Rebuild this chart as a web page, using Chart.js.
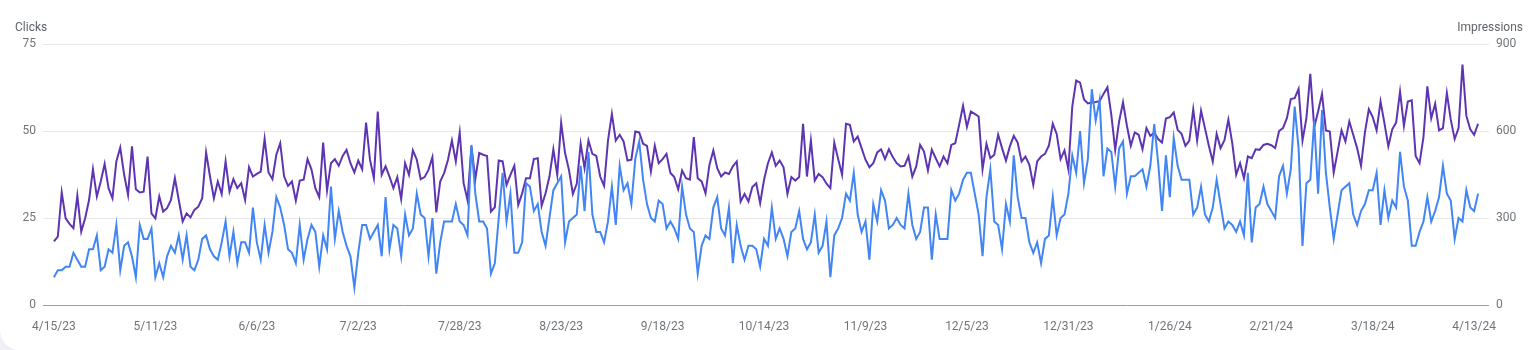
<!DOCTYPE html>
<html>
<head>
<meta charset="utf-8">
<title>Performance</title>
<script src="https://cdn.jsdelivr.net/npm/chart.js@4.4.0/dist/chart.umd.min.js"></script>
<style>
  html, body { margin: 0; padding: 0; background: #eef0f6; }
  .card { width: 1534px; height: 350px; background: #fff; border-bottom-left-radius: 20px; overflow: hidden; }
  canvas { display: block; }
</style>
</head>
<body>
<div class="card"><canvas id="perfChart" width="1534" height="350"></canvas></div>
<script>
// daily values, 4/15/23 .. 4/14/24
var clicks = [
  8,10,10,11,11,15,13,11,11,16,16,20,10,11,16,15,23,10,17,18,
  14,8,23,19,19,22,8,12,8,14,17,15,20,13,20,11,10,13,19,20,
  16,14,13,18,24,14,21,12,18,18,15,28,18,13,23,15,21,31,28,23,
  16,15,12,23,13,19,23,21,11,20,16,34,19,27,21,17,14,5,15,23,
  23,19,21,23,14,31,16,23,22,14,26,20,22,32,26,25,14,25,9,18,
  24,24,24,29,24,23,20,46,32,24,24,22,9,12,25,38,24,32,15,15,
  18,35,34,27,29,21,17,25,33,35,37,18,24,25,26,40,27,44,26,21,
  21,18,24,34,23,40,33,35,29,42,47,36,29,25,24,30,29,22,24,22,
  19,34,26,22,21,9,17,20,19,28,31,22,20,28,12,23,17,13,17,17,
  16,11,19,17,28,19,22,19,14,21,22,27,19,16,18,26,15,17,24,8,
  20,22,25,32,30,38,26,21,24,13,29,24,33,30,22,23,25,23,22,32,
  23,19,21,28,28,13,26,19,19,19,33,30,32,36,38,38,32,26,14,31,
  39,24,23,16,29,24,43,31,25,25,18,15,18,12,19,20,31,20,25,26,
  32,43,38,50,35,42,62,53,59,37,45,44,34,45,47,32,37,37,38,39,
  34,40,52,41,27,43,31,48,40,36,36,36,26,28,34,26,24,28,36,29,
  22,24,23,21,24,20,38,18,28,29,34,29,27,25,37,40,32,39,57,45,
  17,35,36,53,32,56,38,28,19,26,33,34,35,26,23,27,29,33,33,38,
  23,33,25,30,28,44,34,30,17,17,21,24,31,24,27,31,40,32,30,19,
  25,24,33,28,27,32
];

var impressions = [
  219,236,388,299,280,265,377,253,299,362,468,374,426,487,403,368,495,543,449,380,
  547,399,388,391,512,316,299,374,322,334,362,437,362,288,316,302,328,339,368,526,
  443,368,426,383,495,391,434,403,420,362,475,443,452,460,573,457,434,518,558,443,
  411,426,360,429,432,503,468,403,372,560,395,489,503,480,514,535,489,457,498,468,
  629,501,437,667,449,478,443,403,441,365,489,449,533,501,434,441,466,510,319,426,
  455,501,567,495,595,420,362,547,434,524,518,514,322,337,498,495,414,449,480,345,
  385,437,437,503,506,342,385,443,537,449,629,524,466,383,418,556,472,567,521,514,
  443,411,567,659,567,587,564,498,501,598,595,556,549,460,549,489,503,521,455,441,
  399,464,437,432,579,437,426,385,483,533,472,443,457,452,478,495,357,383,357,407,
  420,351,432,489,526,480,498,475,383,441,429,441,625,443,567,429,452,441,418,403,
  560,503,449,625,621,564,581,541,501,475,489,526,537,503,537,510,489,478,480,512,
  443,478,552,529,464,535,506,478,512,489,552,558,621,687,614,667,659,650,468,556,
  506,518,587,541,498,547,583,560,495,512,483,414,495,512,521,549,625,590,503,533,
  468,685,774,767,709,695,698,700,703,728,751,656,535,633,699,618,549,595,587,537,
  610,583,595,572,560,643,648,664,604,590,549,567,675,567,670,610,549,495,590,541,
  568,639,558,449,489,437,512,506,537,535,552,556,551,541,600,610,644,710,713,745,
  567,644,797,613,667,728,602,598,457,529,602,564,633,587,541,480,595,675,648,602,
  702,627,547,606,629,736,618,702,706,514,489,579,754,644,694,602,610,731,639,572,
  610,829,652,606,587,625
];

var tickDays = [0, 26, 52, 78, 104, 130, 156, 182, 208, 234, 260, 286, 312, 338, 364];
var tickLabels = ['4/15/23', '5/11/23', '6/6/23', '7/2/23', '7/28/23', '8/23/23', '9/18/23',
  '10/14/23', '11/9/23', '12/5/23', '12/31/23', '1/26/24', '2/21/24', '3/18/24', '4/13/24'];

var labelColor = '#70757a';
var labelFont = { family: 'Roboto', size: 12 };

function toPoints(arr) {
  return arr.map(function (v, i) { return { x: i, y: v }; });
}

// axis titles sit above the plot, one on each side
var axisTitles = {
  id: 'axisTitles',
  afterDraw: function (chart) {
    var ctx = chart.ctx;
    ctx.save();
    ctx.font = '12px Roboto';
    ctx.fillStyle = '#5f6368';
    ctx.textBaseline = 'middle';
    ctx.textAlign = 'left';
    ctx.fillText('Clicks', 15, 28);
    ctx.textAlign = 'right';
    ctx.fillText('Impressions', 1523, 28);
    ctx.restore();
  }
};

new Chart(document.getElementById('perfChart'), {
  type: 'line',
  data: {
    datasets: [
      {
        label: 'Clicks',
        data: toPoints(clicks),
        yAxisID: 'yClicks',
        borderColor: '#4285f4',
        borderWidth: 2,
        pointRadius: 0,
        tension: 0
      },
      {
        label: 'Impressions',
        data: toPoints(impressions),
        yAxisID: 'yImpr',
        borderColor: '#5e35b1',
        borderWidth: 2,
        pointRadius: 0,
        tension: 0
      }
    ]
  },
  options: {
    responsive: false,
    animation: false,
    devicePixelRatio: 1,
    layout: { padding: { top: 44, left: 0, right: 0, bottom: 0 } },
    plugins: {
      legend: { display: false },
      tooltip: { enabled: false }
    },
    scales: {
      x: {
        type: 'linear',
        min: -2.8,
        max: 367.8,
        grid: { display: false, drawTicks: false },
        border: { display: false },
        afterBuildTicks: function (axis) {
          axis.ticks = tickDays.map(function (d) { return { value: d }; });
        },
        afterFit: function (s) { s.height = 45; },
        ticks: {
          autoSkip: false,
          maxRotation: 0,
          padding: 15,
          color: labelColor,
          font: labelFont,
          callback: function (v) { return tickLabels[tickDays.indexOf(v)]; }
        }
      },
      yClicks: {
        position: 'left',
        min: 0,
        max: 75,
        border: { display: false },
        grid: {
          drawTicks: false,
          color: function (c) { return c.tick && c.tick.value === 0 ? '#9aa0a6' : '#e8e8e8'; }
        },
        afterFit: function (s) { s.width = 43; },
        ticks: { stepSize: 25, padding: 7, color: labelColor, font: labelFont }
      },
      yImpr: {
        position: 'right',
        min: 0,
        max: 900,
        border: { display: false },
        grid: { display: false, drawTicks: false },
        afterFit: function (s) { s.width = 45; },
        ticks: { stepSize: 300, padding: 7, color: labelColor, font: labelFont }
      }
    }
  },
  plugins: [axisTitles]
});
</script>
</body>
</html>
